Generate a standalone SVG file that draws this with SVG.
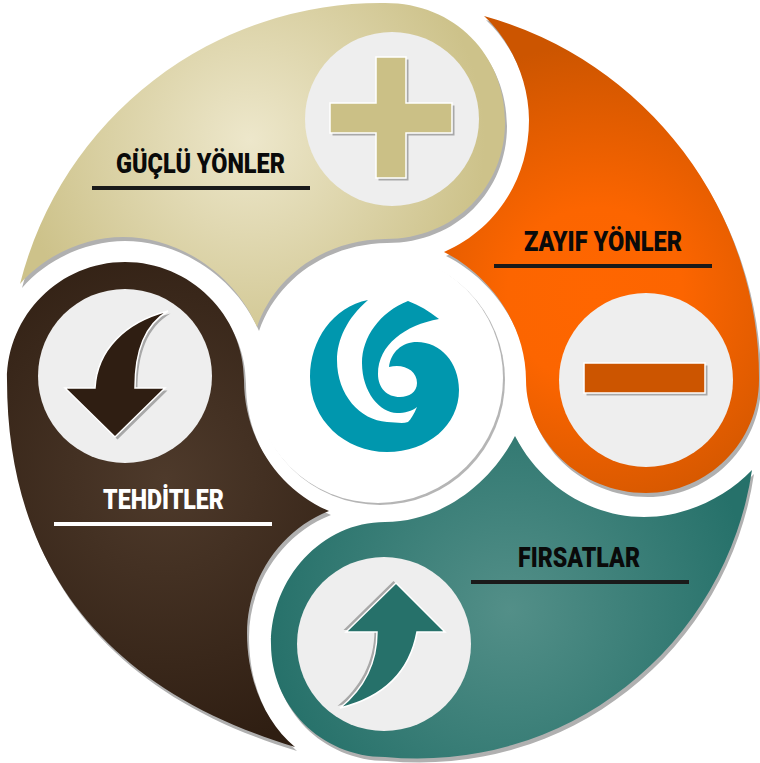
<svg xmlns="http://www.w3.org/2000/svg" xmlns:xlink="http://www.w3.org/1999/xlink" width="760" height="763" viewBox="0 0 760 763">
<style>
.shadow{fill:#b0b0b0}
.disc{fill:#eeeeee}
.lbl{font-family:"Roboto","Liberation Sans",sans-serif;font-weight:900;font-size:27px}
.icon{stroke:#ffffff;stroke-width:1.5}
.ishadow{fill:#a8a8a8}
</style>
<defs>
<radialGradient id="gTan" gradientUnits="userSpaceOnUse" cx="250" cy="140" r="235"><stop offset="0" stop-color="#ede7cb"/><stop offset="1" stop-color="#cdc28a"/></radialGradient>
<radialGradient id="gOrange" gradientUnits="userSpaceOnUse" cx="595" cy="295" r="250"><stop offset="0" stop-color="#ff6600"/><stop offset="0.35" stop-color="#fc6500"/><stop offset="1" stop-color="#cc5500"/></radialGradient>
<radialGradient id="gTeal" gradientUnits="userSpaceOnUse" cx="510" cy="610" r="245"><stop offset="0" stop-color="#538f88"/><stop offset="1" stop-color="#26716a"/></radialGradient>
<radialGradient id="gBrown" gradientUnits="userSpaceOnUse" cx="165" cy="480" r="275"><stop offset="0" stop-color="#4e3a2b"/><stop offset="1" stop-color="#2f1e12"/></radialGradient>
<path id="pTan" d="M20,284 A372,372 0 0 1 385,3 C455,3 505,55 505,122 C505,187 455,239 385,239 C325,240 275,275 257,327 C235,275 180,237 123,237 C85,237 45,255 20,284 Z"/>
<path id="pOrange" d="M484,16 A375,375 0 0 1 759,380 C759,442 708,493 646,493 C580,493 526,440 526,380 C526,325 490,275 444,252 C495,230 529,180 529,120 C529,80 510,40 484,16 Z"/>
<path id="pTeal" d="M752,470 A338,338 0 0 1 385,757 C320,757 271,705 271,644 C271,578 322,522 385,522 C440,522 490,485 515,436 C540,485 590,517 644,517 C685,517 725,498 752,470 Z"/>
<path id="pBrown" d="M295,747 C105,690 7,565 7,380 C7,315 60,262 125,262 C190,262 244,315 244,380 C244,440 280,490 329,511 C280,530 247,580 247,633 C247,680 265,722 295,747 Z"/>
<path id="aDown" d="M168,311 C125,322 97,350 95,388 L65,388 L115,437 L165,388 L135,388 C135,350 145,325 168,311 Z"/>
<path id="aUp" d="M340,708 C385,697 410,670 417,632 L445,632 L396,583 L346,632 L377,632 C377,665 362,690 340,708 Z"/>
<path id="aPlus" d="M376,57 H406 V103 H452 V133 H406 V178 H376 V133 H330 V103 H376 Z"/>
</defs>
<g id="node-guclu">
<use href="#pTan" class="shadow" transform="translate(2,4)"/>
<use href="#pTan" fill="url(#gTan)"/>
<circle class="disc" cx="392" cy="119" r="87"/>
<use href="#aPlus" class="ishadow" transform="translate(2.5,2.5)"/>
<use href="#aPlus" class="icon" fill="#cbc086"/>
<text class="lbl" x="116" y="173" textLength="169" lengthAdjust="spacingAndGlyphs" fill="#0a0a0a">GÜÇLÜ YÖNLER</text>
<rect x="92" y="186" width="218" height="4" fill="#1a1a1a"/>
</g>
<g id="node-zayif">
<use href="#pOrange" class="shadow" transform="translate(2,4)"/>
<use href="#pOrange" fill="url(#gOrange)"/>
<circle class="disc" cx="646" cy="380" r="87"/>
<rect class="ishadow" x="586.5" y="365.5" width="121" height="30"/>
<rect class="icon" x="584" y="363" width="121" height="30" fill="#cc5500"/>
<text class="lbl" x="524" y="251" textLength="158" lengthAdjust="spacingAndGlyphs" fill="#0a0a0a">ZAYIF YÖNLER</text>
<rect x="494" y="264" width="218" height="4" fill="#1a1a1a"/>
</g>
<g id="node-firsatlar">
<use href="#pTeal" class="shadow" transform="translate(2,4)"/>
<use href="#pTeal" fill="url(#gTeal)"/>
<circle class="disc" cx="384" cy="644" r="87"/>
<use href="#aUp" class="ishadow" transform="translate(-2.5,-2)"/>
<use href="#aUp" class="icon" fill="#26716a"/>
<text class="lbl" x="518" y="567" textLength="122" lengthAdjust="spacingAndGlyphs" fill="#0a0a0a">FIRSATLAR</text>
<rect x="471" y="580" width="218" height="4" fill="#1a1a1a"/>
</g>
<g id="node-tehditler">
<use href="#pBrown" class="shadow" transform="translate(2,4)"/>
<use href="#pBrown" fill="url(#gBrown)"/>
<circle class="disc" cx="125" cy="376" r="87"/>
<use href="#aDown" class="ishadow" transform="translate(2.5,2.5)"/>
<use href="#aDown" class="icon" fill="#2f1e12"/>
<text class="lbl" x="103" y="509" textLength="121" lengthAdjust="spacingAndGlyphs" fill="#ffffff">TEHDİTLER</text>
<rect x="54" y="522" width="218" height="4" fill="#ffffff"/>
</g>
<g id="node-center">
<circle cx="380" cy="380" r="125" fill="#b5b5b5"/>
<circle cx="378" cy="378" r="125" fill="#ffffff"/>
<path fill="#0097ae" d="M368,300 C333,307 310,340 310,377 C310,420 345,452 387,452 C428,452 459,425 459,390 C459,362 440,342 417,342 C402,342 391,352 389,367 C403,363 417,370 417,383 C417,392 409,397 400,397 C387,397 378,388 378,374 C378,345 405,325 439,319 C429,311 419,305 408,301 C380,312 362,337 362,363 C362,392 380,413 397,413 C405,413 412,411 417,407 C414,414 411,419 408,422 C402,424 395,422 387,422 C360,420 337,395 337,360 C337,340 347,318 368,300 Z"/>
</g>
</svg>
